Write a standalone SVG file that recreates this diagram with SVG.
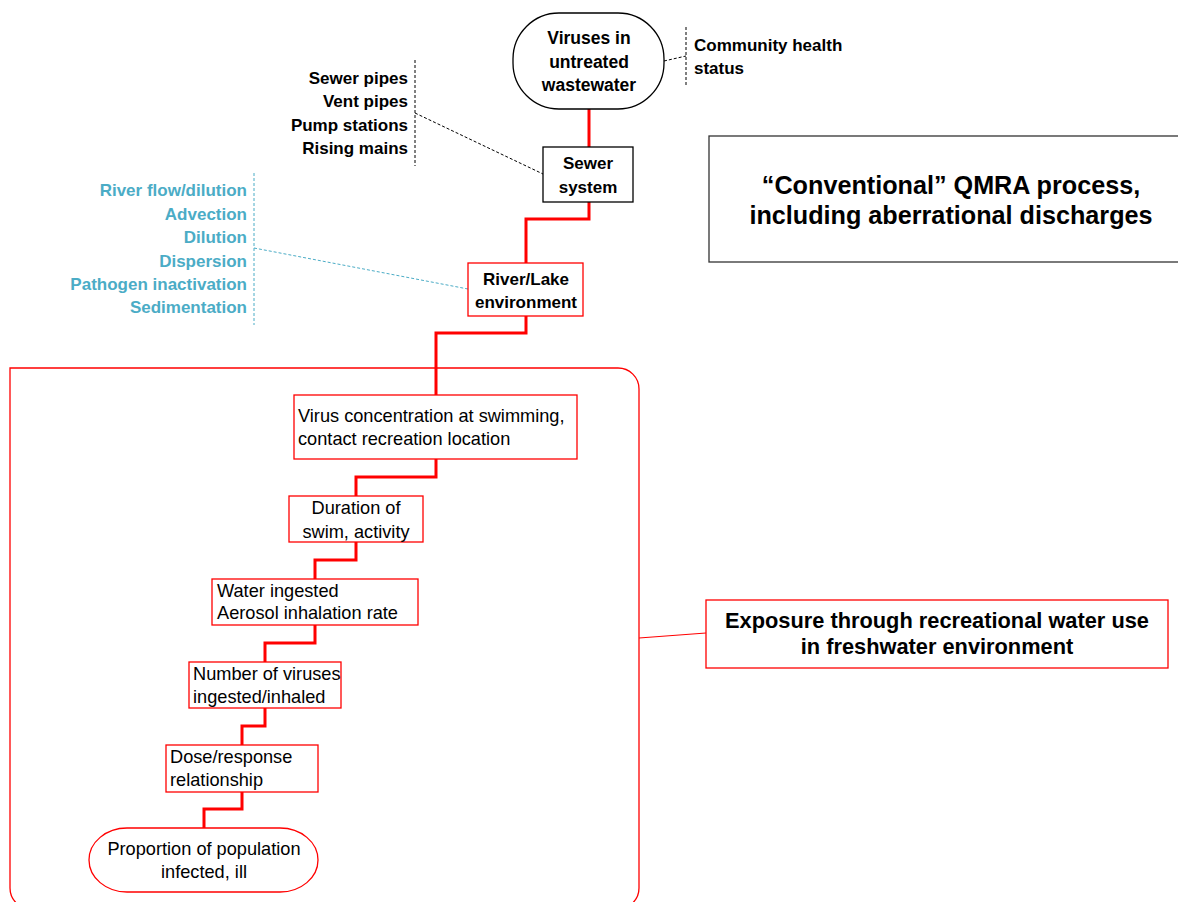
<svg xmlns="http://www.w3.org/2000/svg" width="1178" height="902" viewBox="0 0 1178 902">
<style>
text{font-family:"Liberation Sans",Arial,sans-serif;fill:#000}
.b{font-weight:bold;font-size:17px}
.r{font-size:18.2px}
.c{fill:#4BACC6}
.mid{text-anchor:middle}
.end{text-anchor:end}
.rbox{fill:#fff;stroke:#ff0000;stroke-width:1.3}
.kbox{fill:#fff;stroke:#000;stroke-width:1.3}
.flow{fill:none;stroke:#ff0000;stroke-width:3}
.dash{fill:none;stroke:#000;stroke-width:1;stroke-dasharray:3,2}
.cdash{fill:none;stroke:#4BACC6;stroke-width:1;stroke-dasharray:3,2}
</style>
<rect width="1178" height="902" fill="#fff"/>

<g id="container">
<path d="M10 368 H618 A21 21 0 0 1 639 389 V888 A21 21 0 0 1 618 909 H31 A21 21 0 0 1 10 888 Z" fill="none" stroke="#ff0000" stroke-width="1.3"/>
</g>

<g id="connectors">
<path class="flow" d="M589 109 V147"/>
<path class="flow" d="M589 202 V219 H526 V263"/>
<path class="flow" d="M526 316 V333 H436 V395"/>
<path class="flow" d="M436 459 V477 H356 V496"/>
<path class="flow" d="M356 542 V560 H315 V579"/>
<path class="flow" d="M315 625 V643 H265 V662"/>
<path class="flow" d="M265 708 V726 H242 V745"/>
<path class="flow" d="M242 792 V809 H204 V828"/>
<path class="dash" d="M686 27 V86"/>
<path class="dash" d="M664 61 L686 56"/>
<path class="dash" d="M415 60 V166"/>
<path class="dash" d="M415 113 L543 174"/>
<path class="cdash" d="M254 173 V325"/>
<path class="cdash" d="M254 248 L468 289"/>
<path d="M639 638 L706 633" fill="none" stroke="#ff0000" stroke-width="1.2"/>
</g>

<g id="viruses">
<rect x="513" y="13" width="151" height="96" rx="46" ry="46" class="kbox"/>
<text class="b mid" x="589" y="44" style="font-size:17.5px">Viruses in</text>
<text class="b mid" x="589" y="68" style="font-size:17.5px">untreated</text>
<text class="b mid" x="589" y="91" style="font-size:17.5px">wastewater</text>
</g>

<g id="community">
<text class="b" x="694" y="51">Community health</text>
<text class="b" x="694" y="74">status</text>
</g>

<g id="sewer-factors">
<text class="b end" x="408" y="84">Sewer pipes</text>
<text class="b end" x="408" y="107">Vent pipes</text>
<text class="b end" x="408" y="131">Pump stations</text>
<text class="b end" x="408" y="154">Rising mains</text>
</g>

<g id="sewer">
<rect x="543" y="147" width="90" height="55" class="kbox"/>
<text class="b mid" x="588" y="169">Sewer</text>
<text class="b mid" x="588" y="193">system</text>
</g>

<g id="river-factors">
<text class="b c end" x="247" y="196">River flow/dilution</text>
<text class="b c end" x="247" y="220">Advection</text>
<text class="b c end" x="247" y="243">Dilution</text>
<text class="b c end" x="247" y="267">Dispersion</text>
<text class="b c end" x="247" y="290">Pathogen inactivation</text>
<text class="b c end" x="247" y="313">Sedimentation</text>
</g>

<g id="river">
<rect x="468" y="263" width="115" height="53" class="rbox"/>
<text class="b mid" x="526" y="285">River/Lake</text>
<text class="b mid" x="526" y="308">environment</text>
</g>

<g id="title">
<rect x="709" y="136" width="480" height="126" fill="#fff" stroke="#333" stroke-width="1.3"/>
<text class="mid" x="951" y="194" style="font-weight:bold;font-size:25.2px">“Conventional” QMRA process,</text>
<text class="mid" x="951" y="224" style="font-weight:bold;font-size:25.2px">including aberrational discharges</text>
</g>

<g id="concentration">
<rect x="294" y="395" width="283" height="64" class="rbox"/>
<text class="r" x="298" y="422">Virus concentration at swimming,</text>
<text class="r" x="298" y="445">contact recreation location</text>
</g>

<g id="duration">
<rect x="289" y="496" width="134" height="46" class="rbox"/>
<text class="r mid" x="356" y="514">Duration of</text>
<text class="r mid" x="356" y="538">swim, activity</text>
</g>

<g id="water">
<rect x="212" y="579" width="206" height="46" class="rbox"/>
<text class="r" x="217" y="597">Water ingested</text>
<text class="r" x="217" y="619">Aerosol inhalation rate</text>
</g>

<g id="number">
<rect x="189" y="662" width="152" height="46" class="rbox"/>
<text class="r" x="193" y="680">Number of viruses</text>
<text class="r" x="193" y="703">ingested/inhaled</text>
</g>

<g id="dose">
<rect x="166" y="745" width="152" height="47" class="rbox"/>
<text class="r" x="170" y="763">Dose/response</text>
<text class="r" x="170" y="786">relationship</text>
</g>

<g id="proportion">
<rect x="89" y="828" width="229" height="64" rx="38" ry="32" class="rbox"/>
<text class="r mid" x="204" y="855">Proportion of population</text>
<text class="r mid" x="204" y="878">infected, ill</text>
</g>

<g id="exposure">
<rect x="706" y="600" width="462" height="68" class="rbox"/>
<text class="mid" x="937" y="628" style="font-weight:bold;font-size:21.8px">Exposure through recreational water use</text>
<text class="mid" x="937" y="654" style="font-weight:bold;font-size:21.8px">in freshwater environment</text>
</g>
</svg>
